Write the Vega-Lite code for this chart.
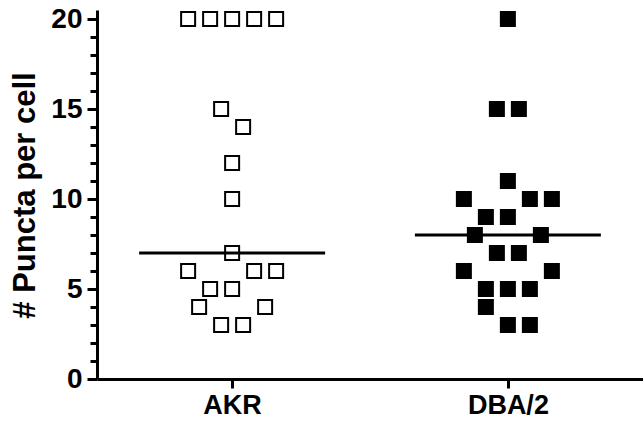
{
  "$schema": "https://vega.github.io/schema/vega-lite/v6.json",
  "width": 546,
  "height": 369,
  "autosize": {"type": "none"},
  "padding": {"left": 97, "top": 10, "right": 0, "bottom": 45},
  "config": {
    "view": {"stroke": null},
    "axis": {
      "domainColor": "black",
      "domainWidth": 3,
      "tickColor": "black",
      "tickWidth": 3,
      "labelFont": "Liberation Sans",
      "labelFontWeight": "bold",
      "labelColor": "black",
      "titleFont": "Liberation Sans",
      "titleFontWeight": "bold",
      "titleColor": "black",
      "grid": false
    }
  },
  "data": {
    "values": [
      {"group": "AKR", "value": 20, "slot": -2},
      {"group": "AKR", "value": 20, "slot": -1},
      {"group": "AKR", "value": 20, "slot": 0},
      {"group": "AKR", "value": 20, "slot": 1},
      {"group": "AKR", "value": 20, "slot": 2},
      {"group": "AKR", "value": 15, "slot": -0.5},
      {"group": "AKR", "value": 14, "slot": 0.5},
      {"group": "AKR", "value": 12, "slot": 0},
      {"group": "AKR", "value": 10, "slot": 0},
      {"group": "AKR", "value": 7, "slot": 0},
      {"group": "AKR", "value": 6, "slot": -2},
      {"group": "AKR", "value": 6, "slot": 1},
      {"group": "AKR", "value": 6, "slot": 2},
      {"group": "AKR", "value": 5, "slot": -1},
      {"group": "AKR", "value": 5, "slot": 0},
      {"group": "AKR", "value": 4, "slot": -1.5},
      {"group": "AKR", "value": 4, "slot": 1.5},
      {"group": "AKR", "value": 3, "slot": -0.5},
      {"group": "AKR", "value": 3, "slot": 0.5},
      {"group": "DBA/2", "value": 20, "slot": 0},
      {"group": "DBA/2", "value": 15, "slot": -0.5},
      {"group": "DBA/2", "value": 15, "slot": 0.5},
      {"group": "DBA/2", "value": 11, "slot": 0},
      {"group": "DBA/2", "value": 10, "slot": -2},
      {"group": "DBA/2", "value": 10, "slot": 1},
      {"group": "DBA/2", "value": 10, "slot": 2},
      {"group": "DBA/2", "value": 9, "slot": -1},
      {"group": "DBA/2", "value": 9, "slot": 0},
      {"group": "DBA/2", "value": 8, "slot": -1.5},
      {"group": "DBA/2", "value": 8, "slot": 1.5},
      {"group": "DBA/2", "value": 7, "slot": -0.5},
      {"group": "DBA/2", "value": 7, "slot": 0.5},
      {"group": "DBA/2", "value": 6, "slot": -2},
      {"group": "DBA/2", "value": 6, "slot": 2},
      {"group": "DBA/2", "value": 5, "slot": -1},
      {"group": "DBA/2", "value": 5, "slot": 0},
      {"group": "DBA/2", "value": 5, "slot": 1},
      {"group": "DBA/2", "value": 4, "slot": -1},
      {"group": "DBA/2", "value": 3, "slot": 0},
      {"group": "DBA/2", "value": 3, "slot": 1}
    ]
  },
  "encoding": {
    "x": {
      "field": "group",
      "type": "nominal",
      "scale": {"type": "point", "padding": 0.49},
      "axis": {"title": null, "labelAngle": 0, "tickSize": 9, "labelPadding": 4, "labelFontSize": 27}
    }
  },
  "layer": [
    {
      "mark": {"type": "tick", "size": 186, "thickness": 3, "color": "black", "opacity": 1},
      "encoding": {
        "y": {
          "aggregate": "median",
          "field": "value",
          "type": "quantitative",
          "scale": {"domain": [0, 20.5], "nice": false, "zero": true},
          "axis": {
            "title": "# Puncta per cell",
            "titleFontSize": 31,
            "titleAngle": -90,
            "titleX": -63,
            "titleY": 185,
            "titleAlign": "center",
            "titleBaseline": "alphabetic",
            "values": [0,1,2,3,4,5,6,7,8,9,10,11,12,13,14,15,16,17,18,19,20],
            "labelExpr": "datum.value % 5 === 0 ? datum.label : ''",
            "labelFontSize": 28,
            "labelPadding": 5,
            "tickSize": {"condition": {"test": "datum.value % 5 === 0", "value": 10}, "value": 7}
          }
        }
      }
    },
    {
      "mark": {"type": "point", "shape": "square", "size": 196, "strokeWidth": 2, "stroke": "black", "opacity": 1},
      "encoding": {
        "y": {
          "field": "value",
          "type": "quantitative",
          "scale": {"domain": [0, 20.5], "nice": false, "zero": true},
          "axis": {
            "title": "# Puncta per cell",
            "titleFontSize": 31,
            "titleAngle": -90,
            "titleX": -63,
            "titleY": 185,
            "titleAlign": "center",
            "titleBaseline": "alphabetic",
            "values": [0,1,2,3,4,5,6,7,8,9,10,11,12,13,14,15,16,17,18,19,20],
            "labelExpr": "datum.value % 5 === 0 ? datum.label : ''",
            "labelFontSize": 28,
            "labelPadding": 5,
            "tickSize": {"condition": {"test": "datum.value % 5 === 0", "value": 10}, "value": 7}
          }
        },
        "xOffset": {
          "field": "slot",
          "type": "quantitative",
          "scale": {"domain": [-1, 1], "range": [-22, 22]}
        },
        "fill": {
          "field": "group",
          "type": "nominal",
          "scale": {"domain": ["AKR", "DBA/2"], "range": ["transparent", "black"]},
          "legend": null
        }
      }
    }
  ]
}
